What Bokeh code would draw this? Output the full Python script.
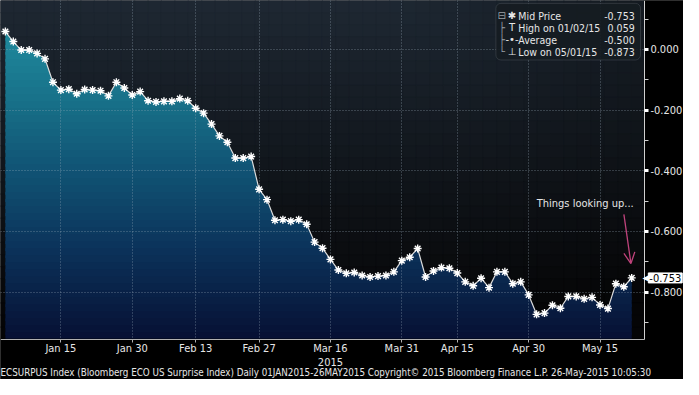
import numpy as np
from bokeh.plotting import figure
from bokeh.models import (FixedTicker, PrintfTickFormatter, Label, BoxAnnotation,
                          Arrow, OpenHead)
from bokeh.embed import file_html
from bokeh.resources import INLINE

# ---------------- data ----------------
values = [0.059, 0.026, -0.002, -0.002, -0.013, -0.031, -0.108, -0.134, -0.131, -0.146,
          -0.132, -0.134, -0.136, -0.153, -0.108, -0.127, -0.150, -0.139, -0.169, -0.173,
          -0.171, -0.171, -0.162, -0.169, -0.194, -0.210, -0.246, -0.285, -0.306, -0.358,
          -0.358, -0.353, -0.461, -0.495, -0.563, -0.561, -0.566, -0.561, -0.576, -0.635,
          -0.655, -0.692, -0.727, -0.738, -0.735, -0.745, -0.750, -0.747, -0.745, -0.733,
          -0.696, -0.685, -0.656, -0.750, -0.730, -0.719, -0.721, -0.737, -0.766, -0.779,
          -0.754, -0.785, -0.733, -0.733, -0.772, -0.766, -0.809, -0.873, -0.869, -0.843,
          -0.853, -0.814, -0.814, -0.822, -0.817, -0.842, -0.854, -0.772, -0.782, -0.753]
tick_index = [7, 16, 24, 32, 41, 50, 57, 66, 75]
tick_labels = ["Jan 15", "Jan 30", "Feb 13", "Feb 27", "Mar 16",
               "Mar 31", "Apr 15", "Apr 30", "May 15"]
year_label = "2015"
year_index = 41
y_ticks = [0.0, -0.2, -0.4, -0.6, -0.8]
y_minor = [0.1, -0.1, -0.3, -0.5, -0.7, -0.9]
legend_names = ["Mid Price", "High on 01/02/15", "Average", "Low on 05/01/15"]
legend_values = ["-0.753", "0.059", "-0.500", "-0.873"]
legend_icons = ["\u2731", "T", "-\u2022-", "\u22a5"]
legend_tree = ["\u229f", "\u251c", "\u251c", "\u2514"]
note_text = "Things looking up..."
footer = ("ECSURPUS Index (Bloomberg ECO US Surprise Index)  Daily 01JAN2015-26MAY2015  "
          "Copyright\u00a9 2015 Bloomberg Finance L.P.  26-May-2015 10:05:30")

idx = np.arange(len(values))
vals = np.array(values)

# ---------------- layout helpers (reference pixels -> data space) ----------------
PX_STEP, PX_X0, PX_Y0, PX_UNIT = 8.114, 5.0, 51.0, 316.25
def rx(px):
    return (px - PX_X0) / PX_STEP
def ry(py):
    return -(py - PX_Y0) / PX_UNIT

# plot region (inside the chart) and whole canvas in data space
px0, px1 = rx(0), rx(659)
py0, py1 = ry(353), ry(0)
cx0, cx1 = rx(0), rx(699)
cy0, cy1 = ry(395), ry(0)

FONT = "DejaVu Sans Condensed, Liberation Sans"
TXT = "#e6e6e6"

p = figure(width=683, height=379, output_backend="svg", toolbar_location=None,
           x_range=(cx0, cx1), y_range=(cy0, cy1), y_axis_location="right",
           min_border_left=0, min_border_top=0, min_border_right=0, min_border_bottom=0,
           background_fill_color="black", border_fill_color="black",
           outline_line_color=None)

# ---------------- background gradient (plot region only) ----------------
nx, ny = 48, 28
xe = np.linspace(px0, px1, nx + 1)
ye = np.linspace(py1, py0, ny + 1)
L, R, T, B, C = [], [], [], [], []
slate = np.array([30, 40, 51])
black = np.array([5, 5, 6])
for j in range(ny):
    fy = (j + 0.5) / ny
    for i in range(nx):
        fx = (i + 0.5) / nx
        t = min(1.0, np.sqrt((fy / 0.95) ** 2 + (max(0.0, fx - 0.6) / 1.0) ** 2))
        c = slate * (1 - t) + black * t
        L.append(xe[i]); R.append(xe[i + 1]); T.append(ye[j]); B.append(ye[j + 1])
        C.append("#%02x%02x%02x" % tuple(int(round(v)) for v in c))
bg = p.quad(left=L, right=R, top=T, bottom=B, fill_color=C, line_color=C, line_width=1)
bg.level = "image"

# ---------------- gradient area fill ----------------
stops_px = [0, 30, 100, 180, 260, 353]
stops_rgb = np.array([[34, 146, 166], [31, 138, 158], [24, 114, 138], [16, 82, 115],
                      [11, 50, 90], [7, 16, 52]], dtype=float)
xd = np.linspace(idx[0], idx[-1], 1600)
yd = np.interp(xd, idx, vals)
nb = 44
edges = np.linspace(py0, vals.max() + 0.002, nb + 1)
band_h = edges[1] - edges[0]
for k in range(nb - 1, -1, -1):
    lo, hi = edges[k], edges[k + 1]
    mid_px = PX_Y0 - (lo + hi) / 2 * PX_UNIT
    col = [np.interp(mid_px, stops_px, stops_rgb[:, c]) for c in range(3)]
    hexc = "#%02x%02x%02x" % tuple(int(round(v)) for v in col)
    lo2 = lo - 0.4 * band_h if k > 0 else lo
    r = p.varea(x=xd, y1=lo2, y2=np.clip(yd, lo2, hi), fill_color=hexc)
    r.level = "image"

# black cover outside the plot region (hides grid lines there)
cov = p.quad(left=[px1, cx0], right=[cx1, cx1], top=[cy1, py0], bottom=[cy0, cy0],
             fill_color="black", line_color="black", line_width=1)
cov.level = "underlay"

# ---------------- line and markers ----------------
p.line(idx, vals, line_color="#dcdcdc", line_width=1.2)
p.scatter(idx, vals, marker="asterisk", size=8, line_color="white", line_width=1.4)

# ---------------- axes & grid ----------------
xa = p.xaxis[0]
xa.fixed_location = py0
xa.bounds = (px0, px1)
xa.ticker = FixedTicker(ticks=tick_index)
xa.major_label_overrides = {t: l for t, l in zip(tick_index, tick_labels)}
xa.axis_line_color = "#b0b0b0"
xa.major_tick_line_color = "#b0b0b0"
xa.major_tick_out = 3
xa.major_tick_in = 0
xa.minor_tick_line_color = None
xa.major_label_text_color = TXT
xa.major_label_text_font = FONT
xa.major_label_text_font_size = "11px"
xa.major_label_standoff = 0

ya = p.yaxis[0]
ya.fixed_location = px1
ya.bounds = (py0, py1)
ya.ticker = FixedTicker(ticks=y_ticks, minor_ticks=y_minor)
ya.formatter = PrintfTickFormatter(format="%.3f")
ya.axis_line_color = "#d0d0d0"
ya.major_tick_line_color = "white"
ya.major_tick_line_width = 3
ya.major_tick_out = 4
ya.major_tick_in = 0
ya.minor_tick_line_color = "#d0d0d0"
ya.minor_tick_out = 4
ya.minor_tick_in = 0
ya.major_label_text_color = TXT
ya.major_label_text_font = FONT
ya.major_label_text_font_size = "11px"
ya.major_label_standoff = 2

for g in (p.xgrid[0], p.ygrid[0]):
    g.grid_line_color = "#9fb0bd"
    g.grid_line_alpha = 0.55
    g.grid_line_dash = "1 2"
    g.grid_line_width = 1
    g.level = "image"
p.xgrid[0].ticker = FixedTicker(ticks=tick_index)
p.ygrid[0].ticker = FixedTicker(ticks=y_ticks)

# year under the Mar 16 tick
p.add_layout(Label(x=year_index, y=ry(377), text=year_label, text_align="center",
                   text_baseline="middle", text_color=TXT, text_font_size="11px",
                   text_font=FONT))

# ---------------- legend box ----------------
p.add_layout(BoxAnnotation(left=rx(507), right=rx(655), top=ry(3), bottom=ry(62),
                           fill_color="#161c22", fill_alpha=0.92, line_color="#6c747c",
                           line_width=1, border_radius=5))
rows_py = [16, 28.5, 41, 53.5]
for i in range(4):
    p.add_layout(Label(x=rx(513), y=ry(rows_py[i]), text=legend_tree[i], text_align="center",
                       text_baseline="middle", text_color="#9aa0a6", text_font_size="10px",
                       text_font="DejaVu Sans"))
    p.add_layout(Label(x=rx(523.5), y=ry(rows_py[i]), text=legend_icons[i], text_align="center",
                       text_baseline="middle", text_color=TXT, text_font_size="10px",
                       text_font="DejaVu Sans"))
    p.add_layout(Label(x=rx(530), y=ry(rows_py[i]), text=legend_names[i], text_align="left",
                       text_baseline="middle", text_color=TXT, text_font_size="10.5px",
                       text_font=FONT))
    p.add_layout(Label(x=rx(649), y=ry(rows_py[i]), text=legend_values[i], text_align="right",
                       text_baseline="middle", text_color=TXT, text_font_size="10.5px",
                       text_font=FONT))

# ---------------- annotation ----------------
p.add_layout(Label(x=rx(648), y=ry(212), text=note_text, text_align="right",
                   text_baseline="middle", text_color=TXT, text_font_size="11px", text_font=FONT))
pink = "#c0437c"
p.add_layout(Arrow(x_start=rx(638), y_start=ry(223), x_end=idx[-1] - 0.1,
                   y_end=vals[-1] + 15 / PX_UNIT,
                   end=OpenHead(size=11, line_color=pink, line_width=1.3),
                   line_color=pink, line_width=1.3))

# ---------------- last value tag ----------------
p.add_layout(Label(x=rx(657), y=vals[-1], text="\u25c0", text_align="left",
                   text_baseline="middle", text_color="white", text_font_size="10px",
                   text_font="DejaVu Sans"))
p.add_layout(Label(x=rx(663), y=vals[-1], text="%.3f" % vals[-1], text_align="left",
                   text_baseline="middle", text_color="black", text_font_size="11px",
                   text_font=FONT, background_fill_color="white",
                   border_line_color="white", padding=1))

# ---------------- footer ----------------
p.add_layout(Label(x=rx(0), y=ry(388), text=footer, text_align="left", text_baseline="middle",
                   text_color=TXT, text_font_size="9.75px", text_font=FONT))

open("out.html", "w").write(file_html(p, INLINE))
